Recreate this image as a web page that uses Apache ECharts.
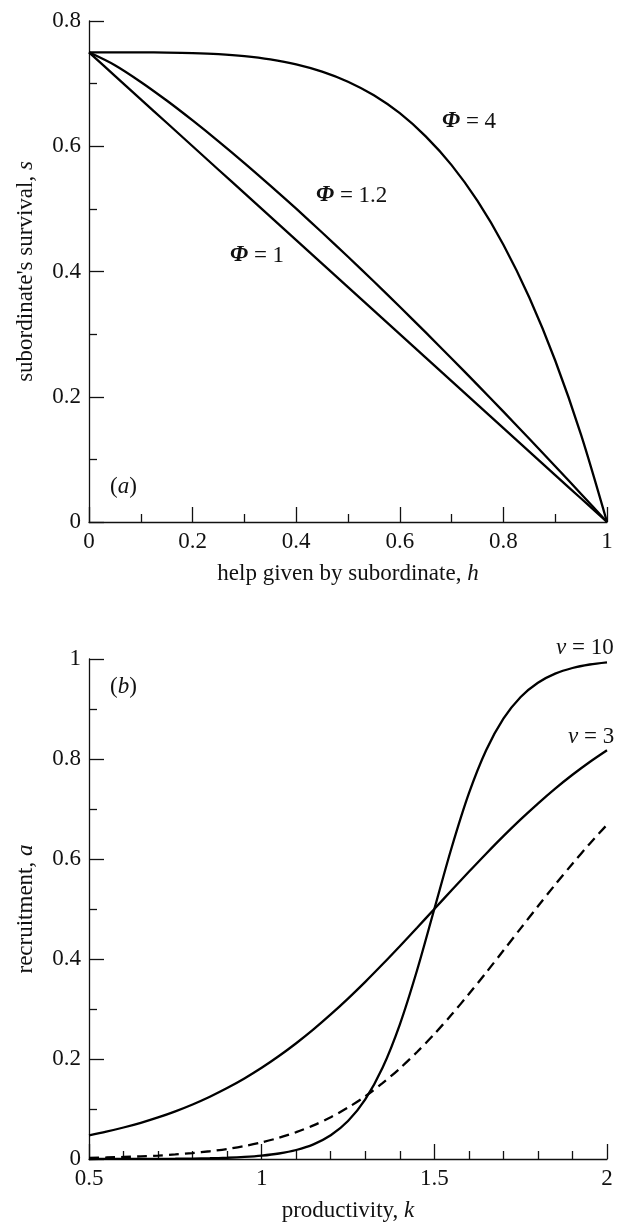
<!DOCTYPE html>
<html>
<head>
<meta charset="utf-8">
<script src="https://cdn.jsdelivr.net/npm/echarts@6/dist/echarts.min.js"></script>
<style>
html,body{margin:0;padding:0;background:#fff;}
#chart{width:626px;height:1225px;}
</style>
</head>
<body>
<div id="chart"></div>
<script>
// ---- Panel (a): subordinate's survival vs help ----
const hValues = [0,0.05,0.1,0.15,0.2,0.25,0.3,0.35,0.4,0.45,0.5,0.55,0.6,0.65,0.7,0.75,0.8,0.85,0.9,0.95,1];
const sPhi1   = [0.75,0.7125,0.675,0.6375,0.6,0.5625,0.525,0.4875,0.45,0.4125,0.375,0.3375,0.3,0.2625,0.225,0.1875,0.15,0.1125,0.075,0.0375,0];
const sPhi12  = [0.75,0.7294,0.7027,0.673,0.6412,0.6079,0.5732,0.5372,0.5003,0.4623,0.4235,0.384,0.3437,0.3027,0.2611,0.2189,0.1762,0.1329,0.0891,0.0448,0];
const sPhi4   = [0.75,0.75,0.7499,0.7496,0.7488,0.7471,0.7439,0.7387,0.7308,0.7192,0.7031,0.6814,0.6528,0.6158,0.5699,0.5127,0.4428,0.3585,0.2579,0.1391,0];
const xTicksA = [0,0.2,0.4,0.6,0.8,1];
const yTicksA = [0,0.2,0.4,0.6,0.8];

// ---- Panel (b): recruitment vs productivity ----
const kValues = [0.5,0.55,0.6,0.65,0.7,0.75,0.8,0.85,0.9,0.95,1,1.05,1.1,1.15,1.2,1.25,1.3,1.35,1.4,1.45,1.5,1.55,1.6,1.65,1.7,1.75,1.8,1.85,1.9,1.95,2];
const aNu3    = [0.0474,0.0547,0.063,0.0724,0.0832,0.0954,0.1091,0.1246,0.1419,0.1611,0.1824,0.2059,0.2315,0.2592,0.2891,0.3208,0.3543,0.3894,0.4256,0.4626,0.5,0.5374,0.5744,0.6106,0.6457,0.6792,0.7109,0.7408,0.7685,0.7941,0.8176];
const aNu10   = [0.00005,0.00008,0.00012,0.0002,0.00034,0.00055,0.00091,0.0015,0.0025,0.0041,0.0067,0.011,0.018,0.0293,0.0474,0.0759,0.1192,0.1824,0.2689,0.3775,0.5,0.6225,0.7311,0.8176,0.8808,0.9241,0.9526,0.9707,0.982,0.989,0.9933];
const aDashed = [0.0023,0.003,0.004,0.0053,0.0069,0.0091,0.0119,0.0155,0.0201,0.026,0.0333,0.0424,0.0536,0.0672,0.0836,0.1029,0.1255,0.1516,0.1811,0.214,0.25,0.2888,0.3299,0.3728,0.4169,0.4613,0.5054,0.5488,0.5906,0.6306,0.6685];
const xTicksB = [0.5,1,1.5,2];
const yTicksB = [0,0.2,0.4,0.6,0.8,1];

const FONT = '"Liberation Serif", "DejaVu Serif", serif';
const FS = 23;
const INK = '#111';

function pairs(xs, ys){ return xs.map((x,i)=>[x, ys[i]]); }

function axisCommon(){
  return {
    axisLine:{show:true, onZero:false, lineStyle:{color:INK, width:1.3}},
    axisTick:{show:true, inside:true, length:15, lineStyle:{color:INK, width:1.3}},
    minorTick:{show:true, length:8, lineStyle:{color:INK, width:1.3}},
    splitLine:{show:false},
    minorSplitLine:{show:false},
    axisLabel:{color:INK, fontFamily:FONT, fontSize:FS, margin:8, showMinLabel:true, showMaxLabel:true},
    nameTextStyle:{color:INK, fontFamily:FONT, fontSize:FS, rich:{i:{fontStyle:'italic', fontFamily:FONT, fontSize:FS, color:INK}}}
  };
}

function lineSeries(xi, yi, data, dashed){
  return {
    type:'line', xAxisIndex:xi, yAxisIndex:yi, data:data, smooth:0.3,
    showSymbol:false, symbol:'none', silent:true, clip:false,
    lineStyle:{color:'#000', width:2.3, type: dashed ? [10,6] : 'solid'}
  };
}

function fmt(v){ return String(Math.round(v*10)/10); }

const chart = echarts.init(document.getElementById('chart'), null, {renderer:'canvas'});
const option = {
  backgroundColor:'#fff',
  animation:false,
  grid:[
    {left:89, top:21, width:518, height:501},
    {left:89, top:659, width:518, height:500}
  ],
  xAxis:[
    Object.assign(axisCommon(), {
      type:'value', gridIndex:0, min:xTicksA[0], max:xTicksA[xTicksA.length-1], interval:0.2,
      minorTick:{show:true, splitNumber:2, length:8, lineStyle:{color:INK, width:1.3}},
      name:'help given by subordinate, {i|h}', nameLocation:'middle', nameGap:40
    }),
    Object.assign(axisCommon(), {
      type:'value', gridIndex:1, min:xTicksB[0], max:xTicksB[xTicksB.length-1], interval:0.5,
      minorTick:{show:true, splitNumber:5, length:8, lineStyle:{color:INK, width:1.3}},
      name:'productivity, {i|k}', nameLocation:'middle', nameGap:40
    })
  ],
  yAxis:[
    Object.assign(axisCommon(), {
      type:'value', gridIndex:0, min:yTicksA[0], max:yTicksA[yTicksA.length-1], interval:0.2,
      minorTick:{show:true, splitNumber:2, length:8, lineStyle:{color:INK, width:1.3}},
      name:"subordinate's survival, {i|s}", nameLocation:'middle', nameGap:52
    }),
    Object.assign(axisCommon(), {
      type:'value', gridIndex:1, min:yTicksB[0], max:yTicksB[yTicksB.length-1], interval:0.2,
      minorTick:{show:true, splitNumber:2, length:8, lineStyle:{color:INK, width:1.3}},
      name:'recruitment, {i|a}', nameLocation:'middle', nameGap:52
    })
  ],
  series:[
    lineSeries(0,0,pairs(hValues,sPhi1),false),
    lineSeries(0,0,pairs(hValues,sPhi12),false),
    lineSeries(0,0,pairs(hValues,sPhi4),false),
    lineSeries(1,1,pairs(kValues,aNu3),false),
    lineSeries(1,1,pairs(kValues,aNu10),false),
    lineSeries(1,1,pairs(kValues,aDashed),true)
  ]
};
option.xAxis.forEach(a=>a.axisLabel.formatter=fmt);
option.yAxis.forEach(a=>a.axisLabel.formatter=fmt);

const richStyle = {
  p:{fontStyle:'italic', fontWeight:'bold', fontFamily:FONT, fontSize:FS, fill:INK},
  i:{fontStyle:'italic', fontFamily:FONT, fontSize:FS, fill:INK}
};
const labels = [
  ['{p|Φ} = 4', 442, 110],
  ['{p|Φ} = 1.2', 316, 184],
  ['{p|Φ} = 1', 230, 244],
  ['({i|a})', 110, 475],
  ['({i|b})', 110, 675],
  ['{i|ν} = 10', 556, 636],
  ['{i|ν} = 3', 568, 725]
];
option.graphic = labels.map(l=>({
  type:'text', left:l[1], top:l[2], z:10, silent:true,
  style:{text:l[0], fontFamily:FONT, fontSize:FS, fill:INK, rich:richStyle}
}));

chart.setOption(option);
</script>
</body>
</html>
